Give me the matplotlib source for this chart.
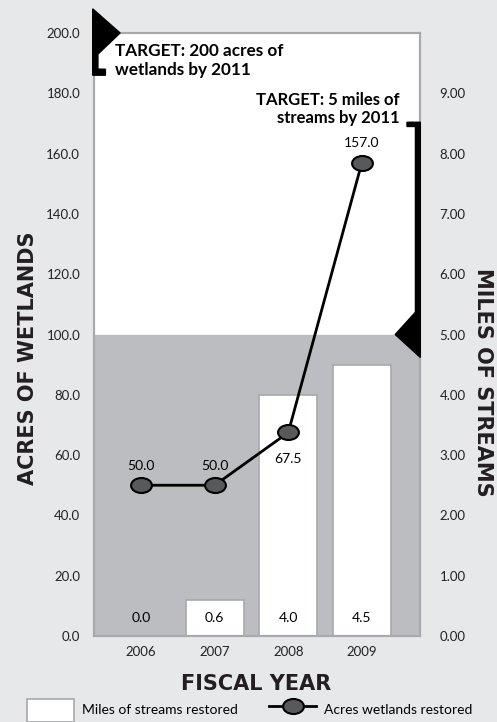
import matplotlib
matplotlib.use("Agg")
import matplotlib.pyplot as plt
from matplotlib.patches import Polygon
from matplotlib.path import Path
from matplotlib.transforms import Affine2D

plt.rcParams['font.family'] = ['Lato', 'DejaVu Sans']

# data
years = ['2006', '2007', '2008', '2009']
miles_streams = [0.0, 0.6, 4.0, 4.5]
acres_wetlands = [50.0, 50.0, 67.5, 157.0]
target_acres = 200
target_miles = 5

bg = '#e7e8e9'
shade = '#bcbdc0'
edge = '#a7a9ac'
title_font = dict(family=['DejaVu Sans'], fontsize=15, fontweight='bold', color='#231f20')

fig = plt.figure(figsize=(4.97, 7.22), dpi=100, facecolor=bg)
ax = fig.add_axes([94/497, 1-636/722, 326/497, 603/722])
ax2 = ax.twinx()

# miles axis sits behind, acres axis (line) in front
ax.set_zorder(ax2.get_zorder() + 1)
ax.patch.set_visible(False)
ax2.patch.set_visible(True)
ax2.set_facecolor('white')

x = range(len(years))
ax2.axhspan(0, target_miles, color=shade, zorder=0)
bars = ax2.bar(x, miles_streams, width=0.79, color='white', edgecolor=edge,
               linewidth=1.2, zorder=2)
for xi, v in zip(x, miles_streams):
    ax2.text(xi, 0.3, '%.1f' % v, ha='center', va='center', fontsize=10, zorder=3)

# ellipse marker
ell = Path.unit_circle().transformed(Affine2D().scale(1.0, 0.72))
line, = ax.plot(x, acres_wetlands, color='black', lw=2, marker=ell, markersize=15,
                markerfacecolor='#58595b', markeredgecolor='black', markeredgewidth=1.5,
                zorder=5)
label_offsets = [14, 14, -19, 14]
for xi, v, off in zip(x, acres_wetlands, label_offsets):
    ax.annotate('%.1f' % v, (xi, v), xytext=(0, off), textcoords='offset points',
                ha='center', va='center', fontsize=10)

ax.set_xlim(-0.64, 3.79)
ax.set_ylim(0, 200)
ax2.set_ylim(0, 10)
ax.set_yticks(range(0, 201, 20))
ax.set_yticklabels(['%.1f' % t for t in range(0, 201, 20)])
ax2.set_yticks(range(0, 10))
ax2.set_yticklabels(['%.2f' % t for t in range(0, 10)])
ax.set_xticks(list(x))
ax.set_xticklabels(years)
ax.tick_params(axis='y', length=0, pad=10, labelsize=9.5, labelcolor='#222222')
ax.tick_params(axis='x', length=0, pad=7, labelsize=9.5, labelcolor='#222222')
ax2.tick_params(axis='y', length=0, pad=14, labelsize=9.5, labelcolor='#222222')

for a in (ax, ax2):
    for s in a.spines.values():
        s.set_color(edge)
        s.set_linewidth(1.5)

# axis titles
ax.text(-0.202, 0.461, 'ACRES OF WETLANDS', transform=ax.transAxes, rotation=90,
        ha='center', va='center', **title_font)
ax.text(1.193, 0.42, 'MILES OF STREAMS', transform=ax.transAxes, rotation=270,
        ha='center', va='center', **title_font)
ax.text(0.497, -0.0796, 'FISCAL YEAR', transform=ax.transAxes,
        ha='center', va='center', **title_font)

# target flags
left_flag = Polygon([(-0.004, 1.04), (0.08, 1.0), (0.012, 0.965), (0.012, 0.94),
                     (0.035, 0.94), (0.035, 0.93), (-0.004, 0.93)],
                    closed=True, transform=ax.transAxes, color='black',
                    clip_on=False, zorder=10)
ax.add_patch(left_flag)
ax.text(0.064, 0.954, 'TARGET: %d acres of\nwetlands by 2011' % target_acres,
        transform=ax.transAxes, ha='left', va='center', fontsize=12.3,
        fontweight='bold', linespacing=1.2)

right_flag = Polygon([(1.001, 0.852), (0.96, 0.852), (0.96, 0.845), (0.986, 0.845),
                      (0.986, 0.537), (0.924, 0.5), (1.001, 0.462)],
                     closed=True, transform=ax.transAxes, color='black',
                     clip_on=False, zorder=10)
ax.add_patch(right_flag)
ax.text(0.936, 0.874, 'TARGET: %d miles of\nstreams by 2011' % target_miles,
        transform=ax.transAxes, ha='right', va='center', fontsize=12,
        fontweight='bold', linespacing=1.2)

leg_line = plt.Line2D([], [], color='black', lw=2, marker=ell, markersize=15,
                      markerfacecolor='#58595b', markeredgecolor='black',
                      markeredgewidth=1.5)
fig.legend(handles=[bars, leg_line],
           labels=['Miles of streams restored', 'Acres wetlands restored'],
           ncol=2, loc='lower left', bbox_to_anchor=(0.029, -0.017), frameon=False,
           fontsize=10, handlelength=3.4, handleheight=2.2, columnspacing=2.2,
           handletextpad=0.6)

fig.savefig('out.png', dpi=100, facecolor=bg)
